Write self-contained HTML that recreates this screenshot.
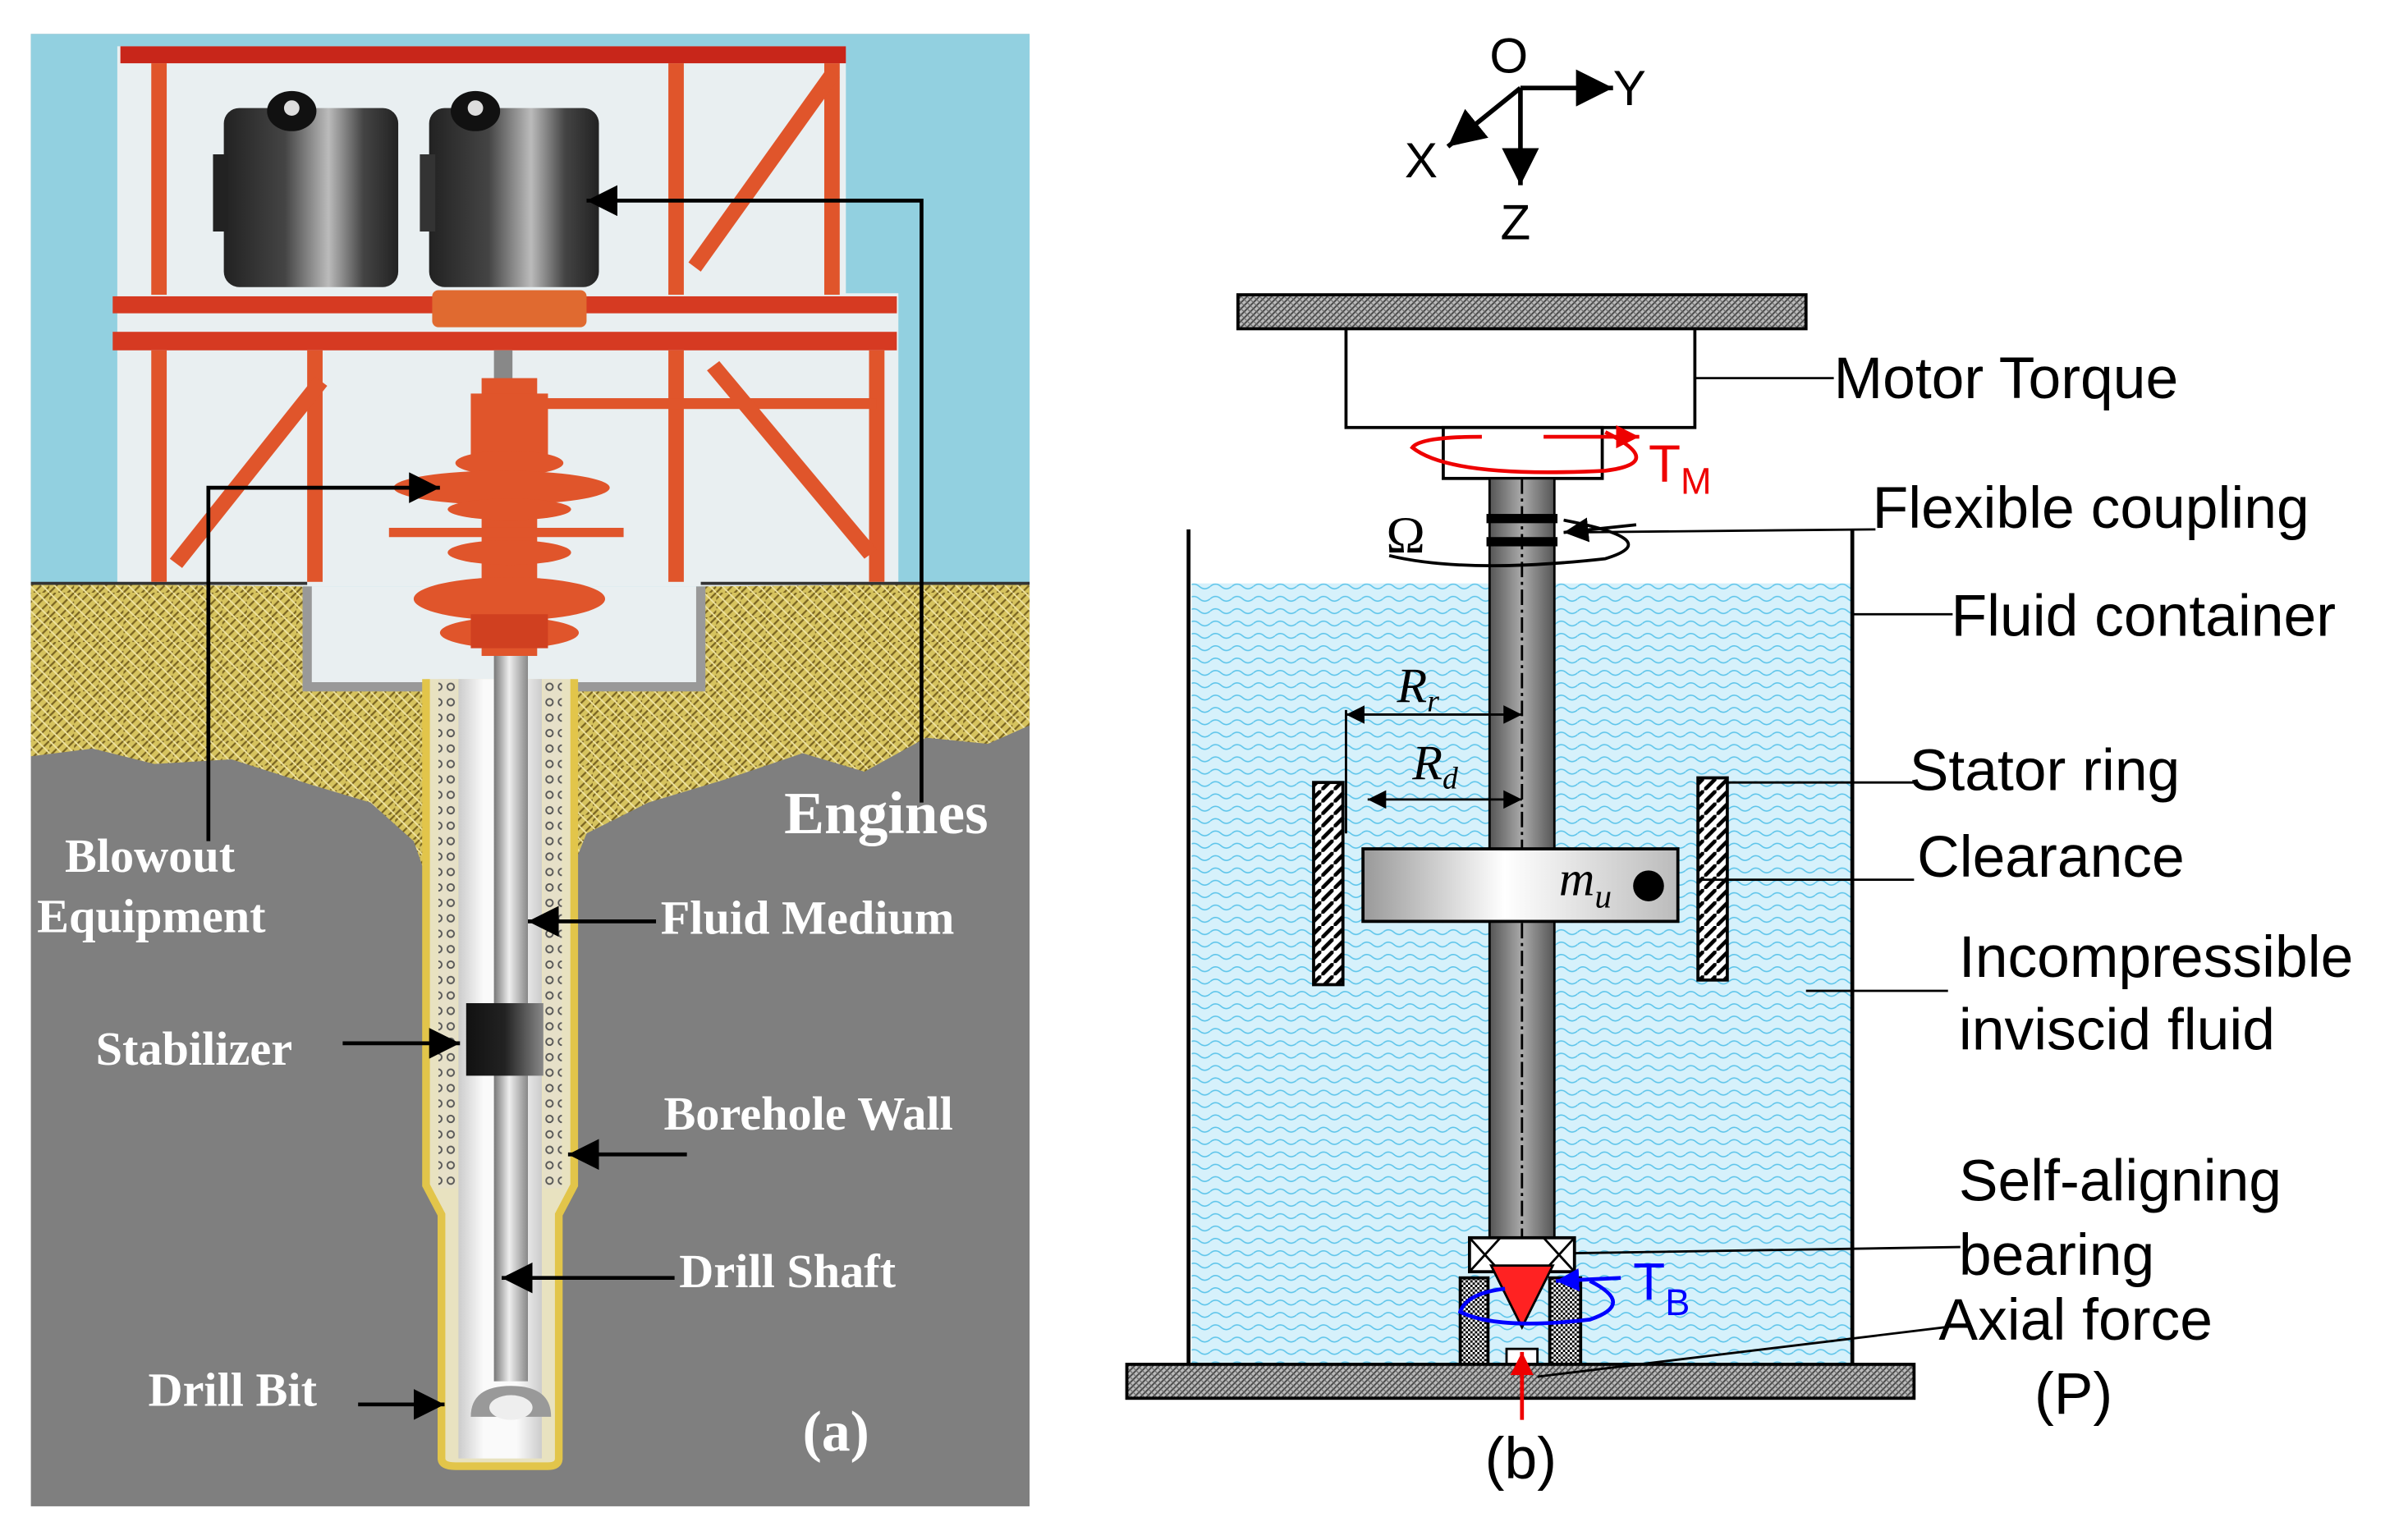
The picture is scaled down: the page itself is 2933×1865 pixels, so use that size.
<!DOCTYPE html>
<html><head><meta charset="utf-8">
<style>html,body{margin:0;padding:0;background:#fff}svg{display:block}</style>
</head><body>
<svg width="2933" height="1865" viewBox="0 0 1560 992" preserveAspectRatio="none" xmlns="http://www.w3.org/2000/svg">
<defs>
<pattern id="hatch" width="4" height="4" patternUnits="userSpaceOnUse"><rect width="4" height="4" fill="#bbb"/><path d="M0 4L4 0" stroke="#444" stroke-width="1"/><path d="M0 0L4 4" stroke="#666" stroke-width="0.6"/></pattern>
<pattern id="check" width="3" height="3" patternUnits="userSpaceOnUse"><rect width="3" height="3" fill="#fff"/><rect width="1.5" height="1.5" fill="#000"/><rect x="1.5" y="1.5" width="1.5" height="1.5" fill="#000"/></pattern>
<pattern id="diag" width="8" height="8" patternUnits="userSpaceOnUse"><rect width="8" height="8" fill="#fff"/><path d="M-2 10L10 -2" stroke="#000" stroke-width="2.5"/></pattern>
<pattern id="wave" width="14" height="8" patternUnits="userSpaceOnUse"><rect width="14" height="8" fill="#d6f1fb"/><path d="M0 4Q3.5 1 7 4T14 4" stroke="#5cc4ea" stroke-width="0.8" fill="none"/></pattern>
<pattern id="soil" width="16" height="16" patternUnits="userSpaceOnUse"><rect width="16" height="16" fill="#d6c35e"/><path d="M0 16L16 0M-4 8L4 0M8 20L20 8M0 10L10 0M6 16L16 6" stroke="#7a6522" stroke-width="1.2"/><path d="M0 0L16 16M8 0L16 8M0 8L8 16" stroke="#efe3a0" stroke-width="1"/></pattern>
<pattern id="wall" width="8" height="10" patternUnits="userSpaceOnUse"><rect width="8" height="10" fill="#e6e0c8"/><circle cx="4" cy="5" r="2.2" fill="none" stroke="#555" stroke-width="1"/></pattern>
<linearGradient id="shaft" x1="0" x2="1"><stop offset="0" stop-color="#555"/><stop offset="0.5" stop-color="#aaa"/><stop offset="1" stop-color="#555"/></linearGradient>
<linearGradient id="wshaft" x1="0" x2="1"><stop offset="0" stop-color="#777"/><stop offset="0.45" stop-color="#eee"/><stop offset="1" stop-color="#888"/></linearGradient>
<linearGradient id="hole" x1="0" x2="1"><stop offset="0" stop-color="#ccc"/><stop offset="0.3" stop-color="#fafafa"/><stop offset="0.7" stop-color="#fafafa"/><stop offset="1" stop-color="#ccc"/></linearGradient>
<linearGradient id="disk" x1="0" x2="1"><stop offset="0" stop-color="#999"/><stop offset="0.45" stop-color="#fff"/><stop offset="1" stop-color="#bbb"/></linearGradient>
<linearGradient id="eng" x1="0" x2="1"><stop offset="0" stop-color="#222"/><stop offset="0.35" stop-color="#444"/><stop offset="0.6" stop-color="#bbb"/><stop offset="0.8" stop-color="#444"/><stop offset="1" stop-color="#222"/></linearGradient>
<linearGradient id="stab" x1="0" x2="1"><stop offset="0" stop-color="#111"/><stop offset="0.5" stop-color="#222"/><stop offset="1" stop-color="#888"/></linearGradient>
<marker id="ah" viewBox="0 0 10 10" refX="10" refY="5" markerWidth="8" markerHeight="8" orient="auto-start-reverse"><path d="M0 0L10 5L0 10z" fill="#000"/></marker>
<marker id="ahr" viewBox="0 0 10 10" refX="10" refY="5" markerWidth="6" markerHeight="6" orient="auto"><path d="M0 0L10 5L0 10z" fill="#e00"/></marker>
<marker id="ahb" viewBox="0 0 10 10" refX="10" refY="5" markerWidth="6" markerHeight="6" orient="auto"><path d="M0 0L10 5L0 10z" fill="#00f"/></marker>
</defs>

<!-- LEFT PANEL -->
<rect x="20" y="22" width="647" height="954" fill="#7f7f7f"/>
<rect x="20" y="22" width="647" height="360" fill="#92d0e0"/>
<path d="M76 30H548V190H582V380H76Z" fill="#e9eff1"/>
<path d="M20 378L199 380L199 445L454 445L454 380L667 378L667 470L640 482L600 478L560 500L520 488L470 505L420 520L380 540L372 560L275 565L268 545L240 520L200 508L150 492L100 495L60 485L20 490Z" fill="url(#soil)"/>
<path d="M20 378H199M454 378H667" stroke="#333" stroke-width="2"/>
<!-- cellar -->
<rect x="199" y="380" width="255" height="65" fill="#e9eff1"/>
<path d="M199 380V445H454V380" fill="none" stroke="#999" stroke-width="6"/>
<!-- frame -->
<g fill="#e0552b">
<rect x="78" y="30" width="470" height="11" fill="#c8261a"/>
<rect x="98" y="41" width="10" height="150"/><rect x="433" y="41" width="10" height="150"/><rect x="534" y="41" width="10" height="150"/>
<path d="M536 44L446 170L454 176L544 50Z"/>
<rect x="73" y="192" width="508" height="11" fill="#d63a22"/><rect x="73" y="215" width="508" height="12" fill="#d63a22"/>
<rect x="98" y="227" width="10" height="150"/><rect x="199" y="227" width="10" height="150"/>
<rect x="433" y="227" width="10" height="150"/><rect x="563" y="227" width="10" height="150"/>
<rect x="343" y="258" width="225" height="7"/>
<path d="M204 244L110 362L118 368L212 250Z"/><path d="M458 240L560 362L568 356L466 234Z"/>
</g>
<!-- engines -->
<rect x="145" y="70" width="113" height="116" rx="10" fill="url(#eng)"/>
<rect x="138" y="100" width="10" height="50" fill="#222"/>
<rect x="278" y="70" width="110" height="116" rx="10" fill="url(#eng)"/>
<rect x="272" y="100" width="10" height="50" fill="#333"/>
<ellipse cx="189" cy="72" rx="16" ry="13" fill="#111"/><ellipse cx="189" cy="70" rx="5" ry="5" fill="#ddd"/>
<ellipse cx="308" cy="72" rx="16" ry="13" fill="#111"/><ellipse cx="308" cy="70" rx="5" ry="5" fill="#ddd"/>
<rect x="280" y="188" width="100" height="24" rx="4" fill="#e06a30"/>
<rect x="320" y="227" width="12" height="20" fill="#888"/>
<!-- blowout stack -->
<g fill="#e0552b">
<rect x="312" y="245" width="36" height="180"/>
<rect x="305" y="255" width="50" height="40"/>
<ellipse cx="330" cy="300" rx="35" ry="8"/>
<ellipse cx="325" cy="316" rx="70" ry="11"/>
<ellipse cx="330" cy="330" rx="40" ry="7"/>
<rect x="252" y="342" width="152" height="6"/>
<ellipse cx="330" cy="358" rx="40" ry="8"/>
<ellipse cx="330" cy="388" rx="62" ry="14"/>
<ellipse cx="330" cy="410" rx="45" ry="10"/>
<rect x="305" y="398" width="50" height="22" fill="#d04020"/>
</g>
<!-- borehole -->
<path d="M276 440V768L286 787V945Q286 950 295 950H355Q362 950 362 945V787L372 768V440" fill="#e8e2c0" stroke="#e2c54a" stroke-width="5"/>
<rect x="284" y="440" width="12" height="330" fill="url(#wall)"/>
<rect x="352" y="440" width="12" height="330" fill="url(#wall)"/>
<rect x="297" y="440" width="54" height="505" fill="url(#hole)"/>
<rect x="320" y="425" width="22" height="470" fill="url(#wshaft)"/>
<path d="M305 918Q305 898 331 898Q357 898 357 918Z" fill="#999"/>
<ellipse cx="331" cy="912" rx="14" ry="8" fill="#eee"/>
<rect x="302" y="650" width="50" height="47" fill="url(#stab)"/>
<g font-family="Liberation Serif,serif" font-weight="bold" fill="#fff">
<text x="508" y="540" font-size="39">Engines</text>
<text x="42" y="565" font-size="31">Blowout</text>
<text x="24" y="604" font-size="31">Equipment</text>
<text x="428" y="605" font-size="31">Fluid Medium</text>
<text x="62" y="690" font-size="31">Stabilizer</text>
<text x="430" y="732" font-size="31">Borehole Wall</text>
<text x="440" y="834" font-size="31">Drill Shaft</text>
<text x="96" y="911" font-size="31">Drill Bit</text>
<text x="520" y="940" font-size="37">(a)</text>
</g>
<g stroke="#000" stroke-width="2.5" fill="none" marker-end="url(#ah)">
<path d="M597 520V130H380"/>
<path d="M135 545V316H285"/>
<path d="M425 597H342"/>
<path d="M222 676H298"/>
<path d="M445 748H368"/>
<path d="M437 828H325"/>
<path d="M232 910H288"/>
</g>

<!-- RIGHT PANEL -->
<g font-family="Liberation Sans,sans-serif" font-size="32">
<text x="965" y="47">O</text><text x="1045" y="68">Y</text><text x="910" y="115">X</text><text x="972" y="155">Z</text>
</g>
<g stroke="#000" stroke-width="3" fill="none" marker-end="url(#ah)">
<path d="M985 57H1045"/><path d="M985 57L938 95"/><path d="M985 57V120"/>
</g>
<rect x="802" y="191" width="368" height="22" fill="url(#hatch)" stroke="#000" stroke-width="2"/>
<rect x="872" y="213" width="226" height="64" fill="#fff" stroke="#000" stroke-width="2"/>
<rect x="935" y="277" width="103" height="33" fill="#fff" stroke="#000" stroke-width="2"/>
<rect x="772" y="378" width="428" height="506" fill="url(#wave)"/>
<path d="M770 343V884M1200 343V884" stroke="#000" stroke-width="2.5"/>
<rect x="965" y="310" width="42" height="495" fill="url(#shaft)" stroke="#000" stroke-width="1.5"/>
<rect x="963" y="333" width="46" height="6" fill="#000"/><rect x="963" y="348" width="46" height="6" fill="#000"/>
<path d="M986 310V860" stroke="#000" stroke-width="1.5" stroke-dasharray="10 3 2 3"/>
<rect x="851" y="507" width="19" height="131" fill="url(#diag)" stroke="#000" stroke-width="2"/>
<rect x="1100" y="504" width="19" height="131" fill="url(#diag)" stroke="#000" stroke-width="2"/>
<rect x="883" y="550" width="204" height="47" fill="url(#disk)" stroke="#000" stroke-width="2"/>
<circle cx="1068" cy="574" r="10" fill="#000"/>
<!-- bearing -->
<rect x="946" y="828" width="18" height="56" fill="url(#check)" stroke="#000" stroke-width="2"/>
<rect x="1004" y="828" width="20" height="56" fill="url(#check)" stroke="#000" stroke-width="2"/>
<rect x="952" y="802" width="68" height="22" fill="#fff" stroke="#000" stroke-width="2"/>
<path d="M952 802L972 824M972 802L952 824M1000 802L1020 824M1020 802L1000 824" stroke="#000" stroke-width="1.5"/>
<path d="M966 820H1006L986 860Z" fill="#f22" stroke="#000" stroke-width="1.5"/>
<rect x="976" y="874" width="20" height="10" fill="#fff" stroke="#000" stroke-width="1.5"/>
<rect x="730" y="884" width="510" height="22" fill="url(#hatch)" stroke="#000" stroke-width="2"/>
<path d="M986 920V876" stroke="#e00" stroke-width="2.5" marker-end="url(#ahr)"/>
<!-- torques -->
<path d="M1040 280Q1080 300 1040 305Q940 310 915 290Q920 283 960 283" stroke="#e00" stroke-width="2.5" fill="none"/>
<path d="M1000 283H1062" stroke="#e00" stroke-width="2.5" marker-end="url(#ahr)"/>
<path d="M1013 337Q1080 350 1040 362Q950 372 900 360" stroke="#000" stroke-width="2" fill="none"/>
<path d="M1060 340L1013 345" stroke="#000" stroke-width="2" marker-end="url(#ah)"/>
<path d="M1030 830Q1060 845 1030 855Q970 862 946 850Q950 838 975 835" stroke="#00f" stroke-width="2.5" fill="none"/>
<path d="M1050 828L1008 830" stroke="#00f" stroke-width="2.5" marker-end="url(#ahb)"/>
<!-- dims -->
<path d="M872 460V540" stroke="#000" stroke-width="1.5" fill="none"/>
<path d="M872 463H986" stroke="#000" stroke-width="1.5" marker-start="url(#ah)" marker-end="url(#ah)"/>
<path d="M886 518H986" stroke="#000" stroke-width="1.5" marker-start="url(#ah)" marker-end="url(#ah)"/>
<g font-family="Liberation Serif,serif" font-style="italic" font-size="32">
<text x="905" y="455">R<tspan font-size="20" dy="6">r</tspan></text>
<text x="915" y="505">R<tspan font-size="20" dy="6">d</tspan></text>
<text x="1010" y="580">m<tspan font-size="22" dy="8">u</tspan></text>
</g>
<text x="898" y="358" font-family="Liberation Serif,serif" font-size="34">Ω</text>
<text x="1068" y="312" font-family="Liberation Sans,sans-serif" font-size="34" fill="#e00">T<tspan font-size="24" dy="8">M</tspan></text>
<text x="1058" y="842" font-family="Liberation Sans,sans-serif" font-size="34" fill="#00f">T<tspan font-size="24" dy="10">B</tspan></text>
<!-- leaders -->
<g stroke="#000" stroke-width="1.5" fill="none">
<path d="M1098 245H1188"/><path d="M1013 345L1215 343"/><path d="M1200 398H1265"/>
<path d="M1119 507H1240"/><path d="M1100 570H1240"/><path d="M1170 642H1262"/>
<path d="M1020 812L1270 808"/><path d="M996 892L1260 860"/>
</g>
<g font-family="Liberation Sans,sans-serif" font-size="38">
<text x="1188" y="258">Motor Torque</text>
<text x="1213" y="342">Flexible coupling</text>
<text x="1264" y="412">Fluid container</text>
<text x="1237" y="512">Stator ring</text>
<text x="1242" y="568">Clearance</text>
<text x="1269" y="633">Incompressible</text>
<text x="1269" y="680">inviscid fluid</text>
<text x="1269" y="778">Self-aligning</text>
<text x="1269" y="826">bearing</text>
<text x="1256" y="868">Axial force</text>
<text x="1318" y="916">(P)</text>
<text x="962" y="958">(b)</text>
</g>
</svg>
</body></html>
